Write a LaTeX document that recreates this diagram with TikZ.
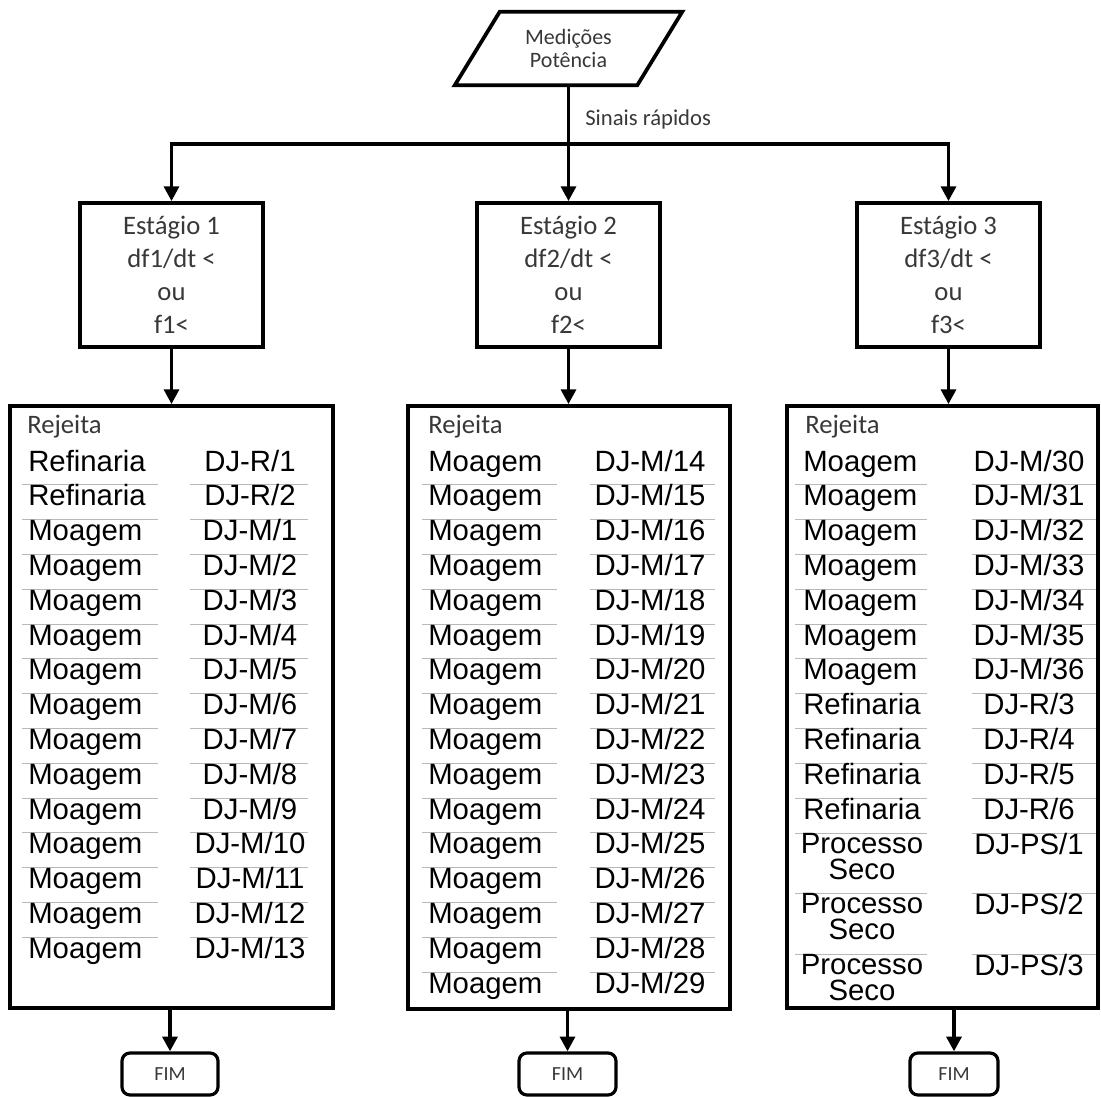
\documentclass[tikz,border=0pt]{standalone}
\usepackage{fontspec}
\setmainfont{Carlito}
\newfontfamily\arialfont{Liberation Sans}
\usetikzlibrary{arrows.meta,calc}

\tikzset{
  frame/.style={draw=black, line width=2.8pt},
  flow/.style={draw=black, line width=2.8pt, -{Triangle[length=11pt,width=11pt]}},
  calib/.style={text=black!78, inner sep=0pt},
  stagebox/.style={frame, calib, align=center, minimum width=137.25pt, minimum height=108pt,
    font=\fontsize{20}{24.75}\selectfont},
  fimbox/.style={draw=black, line width=2.4pt, rounded corners=6pt, calib,
    minimum height=31.5pt, font=\fontsize{15}{18}\selectfont},
  entry/.style={inner sep=0pt, text=black, font=\arialfont\fontsize{22}{22}\selectfont},
  twoline/.style={entry, align=center, font=\arialfont\fontsize{22}{19.5}\selectfont},
  headtxt/.style={calib, font=\fontsize{20}{22}\selectfont, anchor=base west},
  sepline/.style={draw=black!28, line width=0.7pt},
}

\begin{document}
\begin{tikzpicture}[x=0.75pt, y=-0.75pt]
\useasboundingbox (0,0) rectangle (1101,1097);

% input: power measurements
\node[calib, align=center, minimum width=170.25pt, minimum height=54.75pt,
      font=\fontsize{16.5}{17.5}\selectfont] (P) at (568.5,48.5) {Medições\\Potência};
\draw[frame] ($(P.north west)+(45,0)$) -- (P.north east)
  -- ($(P.south east)+(-45,0)$) -- (P.south west) -- cycle;
\node[calib, font=\fontsize{17}{20}\selectfont, anchor=base west] (sig) at (585,125) {Sinais rápidos};
\path (P.south) ++(0,59) coordinate (split);

% frequency stages
\node[stagebox] (S1) at (171.5,275) {Estágio 1\\df1/dt <\\ou\\f1<};
\node[stagebox] (S2) at (568.5,275) {Estágio 2\\df2/dt <\\ou\\f2<};
\node[stagebox] (S3) at (948.5,275) {Estágio 3\\df3/dt <\\ou\\f3<};

\draw[flow] (P.south) -- (S2.north);
\draw[flow] (split) -| (S1.north);
\draw[flow] (split) -| (S3.north);

% load-shedding lists
\node[frame, minimum width=242.25pt, minimum height=451.5pt] (L1) at (171.5,707) {};
\node[frame, minimum width=241.5pt, minimum height=452.25pt] (L2) at (569,707.5) {};
\node[frame, minimum width=233.25pt, minimum height=451.5pt] (L3) at (942.5,707) {};

\draw[flow] (S1.south) -- (S1.south |- L1.north);
\draw[flow] (S2.south) -- (S2.south |- L2.north);
\draw[flow] (S3.south) -- (S3.south |- L3.north);

\node[headtxt] (h1) at (27,433) {Rejeita};
\node[headtxt] (h2) at (428,433) {Rejeita};
\node[headtxt] (h3) at (805,433) {Rejeita};

% stage 1 list
\foreach \r in {1,...,15} {
  \pgfmathsetmacro\yy{471+34.8*(\r-1)}
  \pgfmathtruncatemacro\m{\r-2}
  \ifnum\r<3 \def\nm{Refinaria}\def\cd{DJ-R/\r}\else \def\nm{Moagem}\def\cd{DJ-M/\m}\fi
  \ifnum\r>1 \draw[sepline] (22,\yy-21) -- (158,\yy-21) (190,\yy-21) -- (308,\yy-21);\fi
  \node[entry, anchor=base west] (a\r) at (28,\yy) {\nm};
  \node[entry, anchor=base] (b\r) at (250,\yy) {\cd};
}

% stage 2 list
\foreach \r in {1,...,16} {
  \pgfmathsetmacro\yy{471+34.8*(\r-1)}
  \pgfmathtruncatemacro\m{\r+13}
  \ifnum\r>1 \draw[sepline] (422,\yy-21) -- (557,\yy-21) (590,\yy-21) -- (715,\yy-21);\fi
  \node[entry, anchor=base west] (c\r) at (428,\yy) {Moagem};
  \node[entry, anchor=base] (d\r) at (650,\yy) {DJ-M/\m};
}

% stage 3 list
\foreach \r in {1,...,11} {
  \pgfmathsetmacro\yy{471+34.8*(\r-1)}
  \pgfmathtruncatemacro\m{\r+29}
  \pgfmathtruncatemacro\q{\r-5}
  \ifnum\r<8 \def\nm{Moagem}\def\cd{DJ-M/\m}\else \def\nm{Refinaria}\def\cd{DJ-R/\q}\fi
  \ifnum\r>1 \draw[sepline] (795,\yy-21) -- (927,\yy-21) (972,\yy-21) -- (1096,\yy-21);\fi
  \node[entry, anchor=base west] (e\r) at (803,\yy) {\nm};
  \node[entry, anchor=base] (f\r) at (1029,\yy) {\cd};
}
\foreach \k/\yy in {1/854, 2/914, 3/975} {
  \draw[sepline] (795,\yy-21) -- (927,\yy-21) (972,\yy-21) -- (1096,\yy-21);
  \node[twoline, anchor=north] (p\k) at (862,\yy-21) {Processo\\Seco};
  \node[entry, anchor=base] (g\k) at (1029,\yy) {DJ-PS/\k};
}

% end terminals
\node[fimbox, minimum width=72pt] (F1) at (170,1074) {FIM};
\node[fimbox, minimum width=72.75pt] (F2) at (567.5,1074) {FIM};
\node[fimbox, minimum width=66pt] (F3) at (954,1074) {FIM};

\draw[flow] (F1.north |- L1.south) -- (F1.north);
\draw[flow] (F2.north |- L2.south) -- (F2.north);
\draw[flow] (F3.north |- L3.south) -- (F3.north);
\end{tikzpicture}
\end{document}
